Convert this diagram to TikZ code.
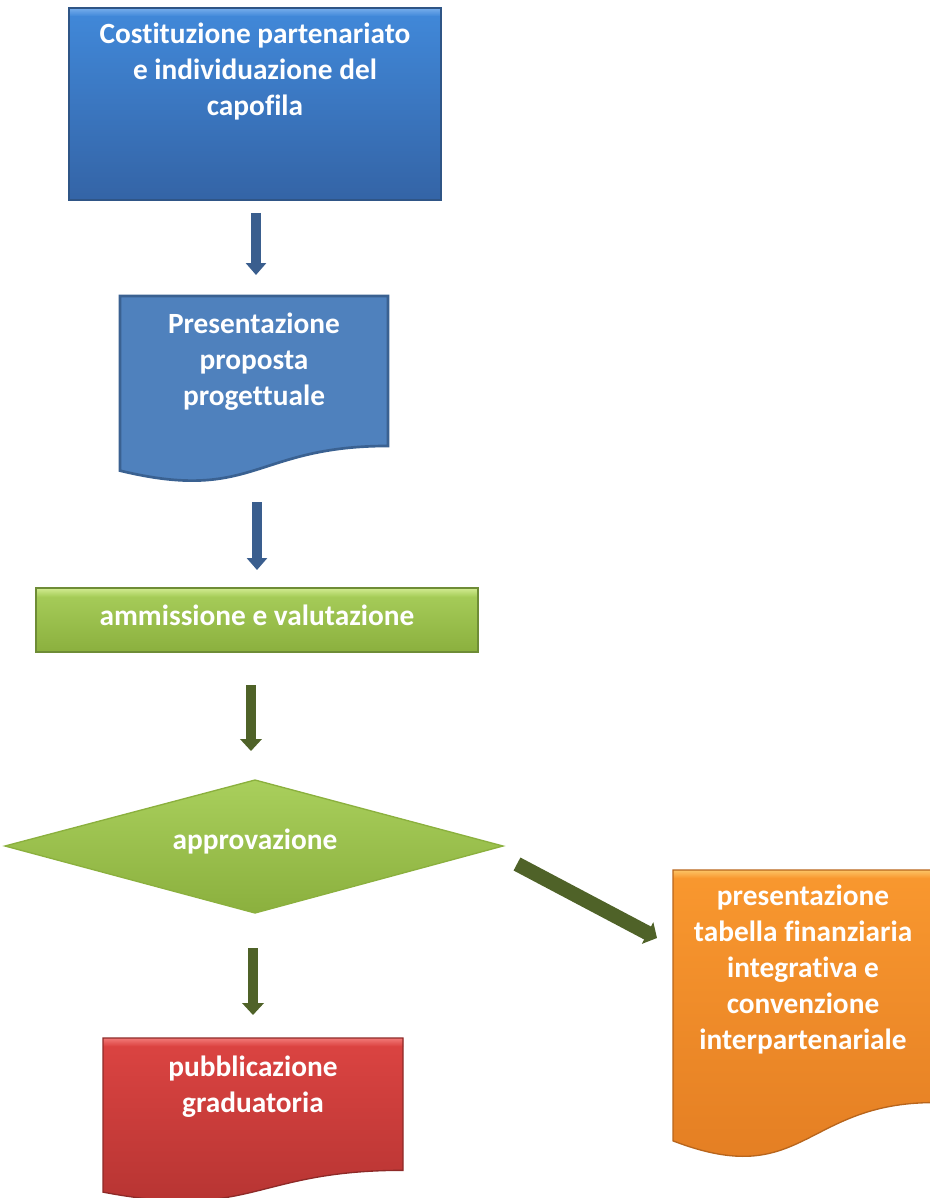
\documentclass[tikz,border=0pt]{standalone}
\usepackage{fontspec}
\setmainfont[Ligatures=NoCommon]{Carlito}
\usetikzlibrary{arrows.meta,shapes.geometric}
\definecolor{blueTop}{HTML}{4189DA}
\definecolor{blueBot}{HTML}{3464A6}
\definecolor{blueHi}{HTML}{78AEEC}
\definecolor{blueEdge}{HTML}{2F5586}
\definecolor{docBlue}{HTML}{4F81BD}
\definecolor{docBlueEdge}{HTML}{3A6191}
\definecolor{grTop}{HTML}{A9CF5C}
\definecolor{grBot}{HTML}{8BB03E}
\definecolor{grHi}{HTML}{D2EB92}
\definecolor{grEdge}{HTML}{6E8C36}
\definecolor{redTop}{HTML}{DC4442}
\definecolor{redBot}{HTML}{B33331}
\definecolor{redHi}{HTML}{F27A78}
\definecolor{redEdge}{HTML}{8E2A28}
\definecolor{orTop}{HTML}{F9982F}
\definecolor{orBot}{HTML}{E27C22}
\definecolor{orHi}{HTML}{FCC466}
\definecolor{orEdge}{HTML}{B8651C}
\definecolor{arrBlue}{HTML}{3A5E8E}
\definecolor{arrGreen}{HTML}{4F6228}
\newcommand{\docshape}[4]{(#1,#3) -- (#2,#3) -- (#2,{#3+0.802*#4})
  .. controls ({(#1+#2)/2},{#3+0.802*#4}) and ({(#1+#2)/2},{#3+1.1075*#4}) .. (#1,{#3+0.934*#4}) -- cycle}
\begin{document}
\begin{tikzpicture}[x=0.75pt,y=-0.75pt,
  lbl/.style={text=white,font=\bfseries\fontsize{22}{27}\selectfont,align=center,inner sep=0pt},
  barrow/.style={draw=arrBlue,line width=7.5pt,-{Triangle[width=15pt,length=9pt]}},
  garrow/.style={draw=arrGreen,line width=8pt,-{Triangle[width=16pt,length=9pt]}},
  darrow/.style={draw=arrGreen,line width=11pt,-{Triangle[width=18pt,length=8pt]}}
]
\useasboundingbox (0,0) rectangle (930,1198);

% top box
\shade[top color=blueTop,bottom color=blueBot] (69,8) rectangle (441,200);
\shade[top color=blueHi,bottom color=blueTop] (69,8) rectangle (441,16);
\draw[blueEdge,line width=1.5pt] (69,8) rectangle (441,200);
\node[lbl] (n1) at (255,72) {Costituzione partenariato\\e individuazione del\\capofila};

% document 2
\fill[docBlue] \docshape{120}{388}{296}{187};
\draw[docBlueEdge,line width=2pt] \docshape{120}{388}{296}{187};
\node[lbl] (n2) at (254,362) {Presentazione\\proposta\\progettuale};

% green rectangle
\shade[top color=grTop,bottom color=grBot] (36,588) rectangle (478,652);
\shade[top color=grHi,bottom color=grTop] (36,588) rectangle (478,596);
\draw[grEdge,line width=1pt] (36,588) rectangle (478,652);
\node[lbl] (n3) at (257,615) {ammissione e valutazione};

% diamond
\shade[top color=grTop,bottom color=grBot] (5,846) -- (255,780) -- (503,846) -- (255,913) -- cycle;
\draw[grBot,line width=1pt] (5,846) -- (255,780) -- (503,846) -- (255,913) -- cycle;
\node[lbl] (n4) at (255,842) {approvazione};

% red document
\shade[top color=redTop,bottom color=redBot] \docshape{103}{403}{1038}{165};
\shade[top color=redHi,bottom color=redTop] (103,1038) rectangle (403,1046);
\draw[redEdge,line width=1pt] \docshape{103}{403}{1038}{165};
\node[lbl] (n5) at (253,1087) {pubblicazione\\graduatoria};

% orange document
\shade[top color=orTop,bottom color=orBot] \docshape{673}{934}{870}{290};
\shade[top color=orHi,bottom color=orTop] (673,870) rectangle (934,878);
\draw[orEdge,line width=1pt] \docshape{673}{934}{870}{290};
\node[lbl] (n6) at (803,970) {presentazione\\tabella finanziaria\\integrativa e\\convenzione\\interpartenariale};

% arrows
\coordinate (a1s) at (256,213); \coordinate (a1e) at (256,275);
\coordinate (a2s) at (257,502); \coordinate (a2e) at (257,570);
\coordinate (a3s) at (251,685); \coordinate (a3e) at (251,751);
\coordinate (a4s) at (253,948); \coordinate (a4e) at (253,1015);
\coordinate (a5s) at (517,864); \coordinate (a5e) at (657,938);
\draw[barrow] (a1s) -- (a1e);
\draw[barrow] (a2s) -- (a2e);
\draw[garrow] (a3s) -- (a3e);
\draw[garrow] (a4s) -- (a4e);
\draw[darrow] (a5s) -- (a5e);
\end{tikzpicture}
\end{document}
